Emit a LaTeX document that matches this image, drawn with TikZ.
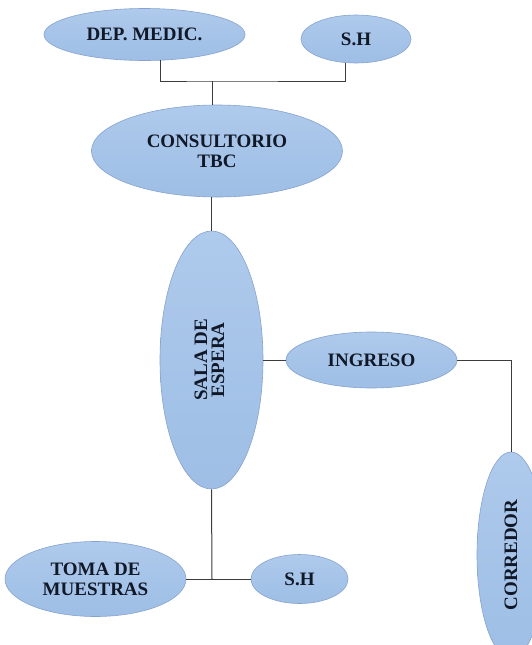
\documentclass[tikz,border=0pt]{standalone}
\usepackage{fontspec}
\setmainfont{Liberation Serif}
\usetikzlibrary{shapes.geometric}
\definecolor{roomtop}{HTML}{AECAEC}
\definecolor{roombot}{HTML}{9EBEE5}
\definecolor{roomline}{HTML}{86A3D0}
\definecolor{roomtext}{HTML}{111827}
\definecolor{linkgray}{HTML}{3C3C3C}
\begin{document}
\begin{tikzpicture}[x=1pt,y=-1pt,
  room/.style={ellipse, draw=roomline, line width=0.6pt,
    top color=roomtop, bottom color=roombot, inner sep=0pt, align=center,
    font=\fontsize{19}{20}\selectfont\bfseries, text=roomtext},
  link/.style={draw=linkgray, line width=1pt}]
\clip (0,0) rectangle (532,645);
\fill[white] (0,0) rectangle (532,645);

% rooms
\node[room, minimum width=201pt, minimum height=52pt] (dep) at (144.5,34.5) {DEP. MEDIC.};
\node[room, minimum width=110pt, minimum height=48pt] (shtop) at (356,39) {S.H};
\node[room, minimum width=251pt, minimum height=92pt] (cons) at (217,151) {CONSULTORIO\\TBC};
\node[room, minimum width=103pt, minimum height=258pt] (sala) at (211.5,360)
  {\rotatebox{90}{\begin{tabular}{@{}c@{}}SALA DE\\[-3pt]ESPERA\end{tabular}}};
\node[room, minimum width=171pt, minimum height=56pt] (ing) at (371.5,360) {INGRESO};
\node[room, minimum width=68pt, minimum height=206pt] (cor) at (511,555)
  {\rotatebox{90}{CORREDOR}};
\node[room, minimum width=181pt, minimum height=75pt] (toma) at (95.5,579) {TOMA DE\\MUESTRAS};
\node[room, minimum width=97pt, minimum height=49pt] (shbot) at (299.5,579) {S.H};

% junctions
\coordinate (jtop) at (212,81);
\coordinate (jbot) at (212,579);

% connectors
\draw[link] (dep.-58) |- (jtop) -| (shtop.-113);
\draw[link] (jtop) -- (jtop |- cons.north);
\draw[link] (cons.south -| sala.north) -- (sala.north);
\draw[link] (sala.east) -- (ing.west);
\draw[link] (ing.east) -| (cor.north);
\draw[link] (sala.south) -- (jbot);
\draw[link] (toma.east) -- (shbot.west);
\end{tikzpicture}
\end{document}
